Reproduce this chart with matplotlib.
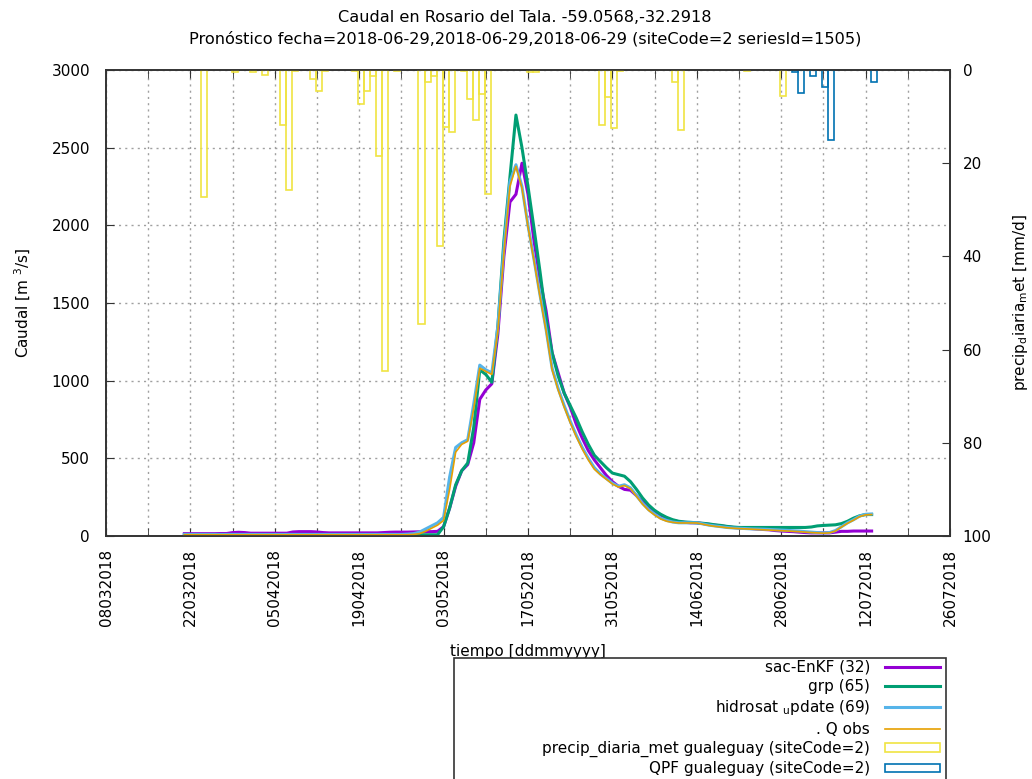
import numpy as np
import pandas as pd
import matplotlib
matplotlib.use('Agg')
import matplotlib.pyplot as plt
import matplotlib.dates as mdates
from matplotlib.patches import Rectangle, Patch
from matplotlib.lines import Line2D

plt.rcParams['font.family'] = ['DejaVu Sans']

# ---------------- data ----------------
flow_start = '2018-03-21'   # daily values from 21/03/2018 to 13/07/2018

sac_enkf = [15, 15, 15, 15, 15, 15, 16, 16,
            22, 24, 22,
            18, 18, 18, 18, 18, 18, 18,
            26, 28, 28, 28, 26, 22,
            20, 20, 20, 20, 20, 20, 20, 20, 20,
            22, 24, 25, 25, 25,
            26, 27, 28, 28, 30,
            60, 180, 320, 420, 460, 600, 880, 940, 980, 1300,
            1800, 2150, 2200, 2400, 2200, 1900, 1650, 1450, 1180, 1050,
            920, 830, 720, 630, 550, 490, 440, 390, 350, 320,
            300, 295, 260, 220, 190, 160, 135, 115, 100, 92,
            88, 85, 85, 80, 75, 70, 65, 60, 55, 52,
            50, 48, 45, 42, 40, 35, 32, 30, 28, 25,
            22, 20, 20, 20, 20, 25, 30, 30, 32, 32,
            32, 32]

grp = [8] * 43 + [
       60, 180, 330, 420, 470, 700, 1070, 1040, 990, 1350,
       1900, 2310, 2710, 2500, 2250, 1980, 1700, 1400, 1180, 1030,
       920, 840, 760, 670, 590, 520, 480, 440, 405, 395,
       385, 350, 300, 245, 200, 165, 140, 120, 105, 95,
       90, 88, 85, 82, 78, 72, 68, 62, 58, 55,
       55, 55, 55, 55, 55, 55, 55, 55, 55, 55,
       55, 58, 65, 68, 70, 72, 80, 95, 115, 130,
       138, 138]

hidrosat = [10] * 37 + [12, 15, 25, 45, 65, 85] + [
       120, 380, 570, 600, 620, 850, 1100, 1070, 1050, 1350,
       1850, 2280, 2390, 2250, 2000, 1780, 1550, 1330, 1080, 950,
       840, 740, 650, 570, 500, 440, 400, 370, 340, 320,
       330, 310, 260, 210, 170, 140, 115, 100, 90, 85,
       85, 85, 85, 78, 70, 65, 60, 55, 52, 50,
       48, 46, 45, 44, 42, 40, 38, 36, 34, 32,
       28, 25, 22, 20, 22, 35, 60, 85, 105, 128,
       140, 142]

q_obs = [8] * 38 + [10, 15, 30, 50, 70] + [
       100, 300, 540, 590, 610, 820, 1080, 1060, 1040, 1320,
       1820, 2250, 2380, 2240, 1990, 1770, 1540, 1320, 1070, 940,
       830, 730, 640, 560, 490, 430, 395, 365, 335, 315,
       325, 305, 255, 205, 165, 135, 110, 95, 88, 84,
       84, 84, 84, 76, 68, 62, 58, 53, 50, 48,
       46, 44, 42, 40, 38, 36, 34, 32, 30, 28,
       25, 22, 20, 18, 20, 32, 58, 82, 102, 125,
       136, 138]

precip_dates = ['2018-03-24', '2018-03-29', '2018-04-01', '2018-04-03', '2018-04-06',
                '2018-04-07', '2018-04-08', '2018-04-11', '2018-04-12', '2018-04-13',
                '2018-04-18', '2018-04-19', '2018-04-20', '2018-04-21', '2018-04-22',
                '2018-04-23', '2018-04-25', '2018-04-29', '2018-04-30', '2018-05-01',
                '2018-05-02', '2018-05-03', '2018-05-04', '2018-05-06', '2018-05-07',
                '2018-05-08', '2018-05-09', '2018-05-10', '2018-05-17', '2018-05-18',
                '2018-05-29', '2018-05-30', '2018-05-31', '2018-06-01', '2018-06-10',
                '2018-06-11', '2018-06-22', '2018-06-28']
precip_mm = [27.2, 0.5, 0.5, 1.0, 11.9,
             25.8, 0.3, 2.0, 4.5, 0.3,
             0.3, 7.3, 4.5, 1.3, 18.5,
             64.5, 0.3, 54.5, 2.5, 1.3,
             37.7, 12.2, 13.3, 0.3, 6.2,
             10.7, 5.2, 26.6, 0.5, 0.5,
             11.9, 5.9, 12.5, 0.3, 2.5,
             12.9, 0.3, 5.6]

qpf_dates = ['2018-06-30', '2018-07-01', '2018-07-03', '2018-07-05', '2018-07-06', '2018-07-13']
qpf_mm = [0.5, 5.0, 1.3, 3.6, 15.0, 2.5]

tick_start = '2018-03-08'
tick_end = '2018-07-26'

# ---------------- figure ----------------
W, H = 1032, 779
fig = plt.figure(figsize=(W / 100, H / 100), dpi=100)
L, R, B, T = 106, 950, 536, 70
ax = fig.add_axes([L / W, 1 - B / H, (R - L) / W, (B - T) / H])
ax2 = ax.twinx()

flow_dates = pd.date_range(flow_start, periods=len(sac_enkf), freq='D')

c_purple = '#9400D3'
c_green = '#009E73'
c_lblue = '#56B4E9'
c_orange = '#E69F00'
c_yellow = '#F0E442'
c_blue = '#0072B2'

ax.plot(flow_dates, sac_enkf, color=c_purple, lw=2.2, zorder=3)
ax.plot(flow_dates, grp, color=c_green, lw=2.2, zorder=3)
ax.plot(flow_dates, hidrosat, color=c_lblue, lw=2.2, zorder=3)
ax.plot(flow_dates, q_obs, color=c_orange, lw=1.2, zorder=3)

off = pd.Timedelta(hours=8)
pd_dates = pd.to_datetime(precip_dates) + off
qd_dates = pd.to_datetime(qpf_dates) + off
ax2.bar(pd_dates, precip_mm, width=1.0, fill=False, edgecolor=c_yellow, linewidth=1.2)
ax2.bar(qd_dates, qpf_mm, width=1.0, fill=False, edgecolor=c_blue, linewidth=1.2)

# axes limits
ax.set_xlim(pd.Timestamp(tick_start), pd.Timestamp(tick_end))
ax.set_ylim(0, 3000)
ax.set_yticks(np.arange(0, 3001, 500))
ax2.set_ylim(100, 0)
ax2.set_yticks(np.arange(0, 101, 20))

major = pd.date_range(tick_start, tick_end, freq='14D')
minor = pd.date_range(tick_start, tick_end, freq='7D')
ax.set_xticks(major)
ax.set_xticks(minor, minor=True)
ax.xaxis.set_major_formatter(mdates.DateFormatter('%d%m%Y'))
for lab in ax.get_xticklabels():
    lab.set_rotation(90)

fs = 11
ax.tick_params(axis='x', which='both', direction='in', length=6, top=True,
               labelsize=fs, pad=9, color='#333333')
ax.tick_params(axis='y', which='both', direction='in', length=6, right=False,
               labelsize=fs, pad=11.5, color='#333333')
ax2.tick_params(axis='y', direction='in', length=6, labelsize=fs, pad=9, color='#333333')

ax.grid(True, which='both', axis='x', linestyle=(0, (1.5, 3)), color='#a0a0a0', lw=1)
ax.grid(True, which='major', axis='y', linestyle=(0, (1.5, 3)), color='#a0a0a0', lw=1)
ax.set_axisbelow(True)

for sp in list(ax.spines.values()) + list(ax2.spines.values()):
    sp.set_color('#333333')
    sp.set_linewidth(1.2)

ax.set_ylabel('Caudal [m $^3$/s]', fontsize=fs, labelpad=13)
ax2.set_ylabel('precip$_{\\mathrm{d}}$iaria$_{\\mathrm{m}}$et [mm/d]', fontsize=fs, labelpad=14)
ax.set_xlabel('tiempo [ddmmyyyy]', fontsize=fs, labelpad=13)

fig.text(0.5 + 9 / W, 1 - 18 / H, 'Caudal en Rosario del Tala. -59.0568,-32.2918',
         ha='center', va='center', fontsize=11.6)
fig.text(0.5 + 9 / W, 1 - 39 / H,
         'Pronóstico fecha=2018-06-29,2018-06-29,2018-06-29 (siteCode=2 seriesId=1505)',
         ha='center', va='center', fontsize=11.6)

# legend box
box = Rectangle((454 / W, -0.02), (946 - 454) / W, (1 - 658 / H) + 0.02,
                transform=fig.transFigure, facecolor='white', edgecolor='#333333',
                lw=1.2, zorder=1)
fig.patches.append(box)

handles = [Line2D([], [], color=c_purple, lw=2.2),
           Line2D([], [], color=c_green, lw=2.2),
           Line2D([], [], color=c_lblue, lw=2.2),
           Line2D([], [], color=c_orange, lw=1.2),
           Patch(facecolor='none', edgecolor=c_yellow, lw=1.2),
           Patch(facecolor='none', edgecolor=c_blue, lw=1.2)]
labels = ['sac-EnKF (32)', 'grp (65)', 'hidrosat $_{\\mathrm{u}}$pdate (69)', '. Q obs',
          'precip_diaria_met gualeguay (siteCode=2)', 'QPF gualeguay (siteCode=2)']
leg = fig.legend(handles, labels, loc='upper right',
                 bbox_to_anchor=(951 / W, 1 - 649 / H), frameon=False,
                 markerfirst=False, fontsize=fs, handlelength=3.6,
                 handletextpad=1.0, labelspacing=0.28, borderpad=0.2,
                 handleheight=0.5)

fig.savefig('out.png', dpi=100)
